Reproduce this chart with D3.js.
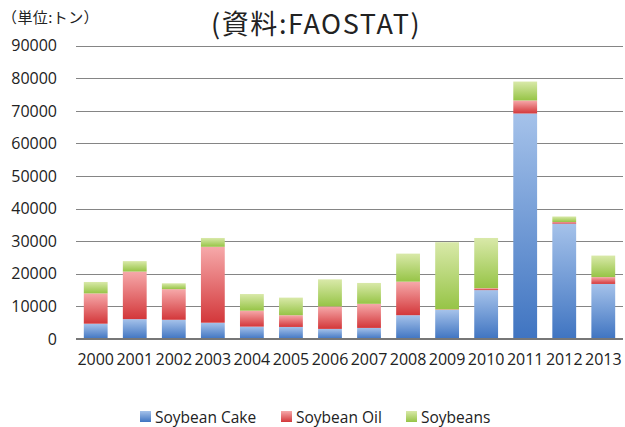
<!DOCTYPE html>
<html>
<head>
<meta charset="utf-8">
<script src="https://cdn.jsdelivr.net/npm/d3@7"></script>
<style>
  html, body { margin: 0; padding: 0; background: #fff; }
  svg { display: block; }
  text { font-family: "Open Sans", "Noto Sans", sans-serif; fill: #222; }
  .jp { font-family: "Noto Sans CJK JP", sans-serif; }
</style>
</head>
<body>
<svg id="chart" width="625" height="427"></svg>
<script>
// Soybean product volumes by year (tonnes)
const years = ["2000","2001","2002","2003","2004","2005","2006","2007","2008","2009","2010","2011","2012","2013"];
const soybeanCake = [4700, 6100, 5900, 5000, 3800, 3700, 3100, 3400, 7300, 8900, 15000, 69200, 35400, 16900];
const soybeanOil  = [9300, 14600, 9400, 23300, 4900, 3600, 6900, 7400, 10300, 200, 600, 4000, 500, 2100];
const soybeans    = [3500, 3200, 1800, 2700, 5100, 5400, 8300, 6400, 8600, 20600, 15400, 5800, 1700, 6600];
const yTicks = [0, 10000, 20000, 30000, 40000, 50000, 60000, 70000, 80000, 90000];
const seriesNames = ["Soybean Cake", "Soybean Oil", "Soybeans"];

const svg = d3.select("#chart");
const plotLeft = 76, plotRight = 623, plotTop = 45.7, plotBottom = 339;

const rows = years.map((yr, i) => ({
  year: yr,
  "Soybean Cake": soybeanCake[i],
  "Soybean Oil": soybeanOil[i],
  "Soybeans": soybeans[i]
}));
const stacked = d3.stack().keys(seriesNames)(rows);

const x = d3.scaleBand().domain(years).range([plotLeft, plotRight]).paddingInner(0.39).paddingOuter(0.2);
const y = d3.scaleLinear().domain([0, 90000]).range([plotBottom, plotTop]);

// vertical gradients per series: light top, saturated bottom
const palette = {
  "Soybean Cake": ["#a5c2ea", "#3f74c1"],
  "Soybean Oil":  ["#f6a9aa", "#d3373a"],
  "Soybeans":     ["#d9e9a9", "#96c446"]
};
const defs = svg.append("defs");
seriesNames.forEach((name, i) => {
  const g = defs.append("linearGradient").attr("id", "grad" + i)
    .attr("x1", 0).attr("y1", 0).attr("x2", 0).attr("y2", 1);
  g.append("stop").attr("offset", "0%").attr("stop-color", palette[name][0]);
  g.append("stop").attr("offset", "100%").attr("stop-color", palette[name][1]);
});

// gridlines
svg.append("g")
  .selectAll("line")
  .data(yTicks.filter(d => d > 0))
  .join("line")
  .attr("x1", plotLeft).attr("x2", plotRight)
  .attr("y1", d => Math.round(y(d)) + 0.5).attr("y2", d => Math.round(y(d)) + 0.5)
  .attr("stroke", "#858585").attr("stroke-width", 1);

// y tick labels
const yAxis = d3.axisLeft(y).tickValues(yTicks).tickFormat(d3.format("d")).tickSize(0).tickPadding(19);
const ya = svg.append("g").attr("transform", `translate(${plotLeft},0)`).call(yAxis);
ya.select(".domain").remove();
ya.selectAll("text").attr("font-size", 16).attr("font-family", "\"Open Sans\", sans-serif").attr("fill", "#1a1a1a");

// stacked bars
svg.append("g")
  .selectAll("g")
  .data(stacked)
  .join("g")
  .attr("fill", (d, i) => `url(#grad${i})`)
  .selectAll("rect")
  .data(d => d)
  .join("rect")
  .attr("x", d => x(d.data.year))
  .attr("y", d => y(d[1]))
  .attr("width", x.bandwidth())
  .attr("height", d => Math.max(0, y(d[0]) - y(d[1])));

// baseline
svg.append("line")
  .attr("x1", plotLeft).attr("x2", plotRight)
  .attr("y1", y(0)).attr("y2", y(0))
  .attr("stroke", "#777").attr("stroke-width", 2);

// x tick labels
const xAxis = d3.axisBottom(x).tickSize(0).tickPadding(15);
const xa = svg.append("g").attr("transform", `translate(0,${plotBottom})`).call(xAxis);
xa.select(".domain").remove();
xa.selectAll("text").attr("font-size", 16).attr("font-family", "\"Open Sans\", sans-serif").attr("fill", "#1a1a1a");

// unit label and source title
svg.append("text").attr("class", "jp").attr("x", 2).attr("y", 23)
  .attr("font-size", 15).attr("letter-spacing", 0.4).text("（単位:トン）");
svg.append("text").attr("class", "jp").attr("x", 211).attr("y", 34)
  .attr("font-size", 27).attr("letter-spacing", 1.6).text("(資料:FAOSTAT)");

// legend
const legendX = [140, 281, 406];
const lg = svg.append("g").selectAll("g").data(seriesNames).join("g")
  .attr("transform", (d, i) => `translate(${legendX[i]},411)`);
lg.append("rect").attr("width", 11).attr("height", 11)
  .attr("fill", (d, i) => `url(#grad${i})`);
lg.append("text").attr("x", 15).attr("y", 11.5).attr("font-size", 15.5).text(d => d);
</script>
</body>
</html>
